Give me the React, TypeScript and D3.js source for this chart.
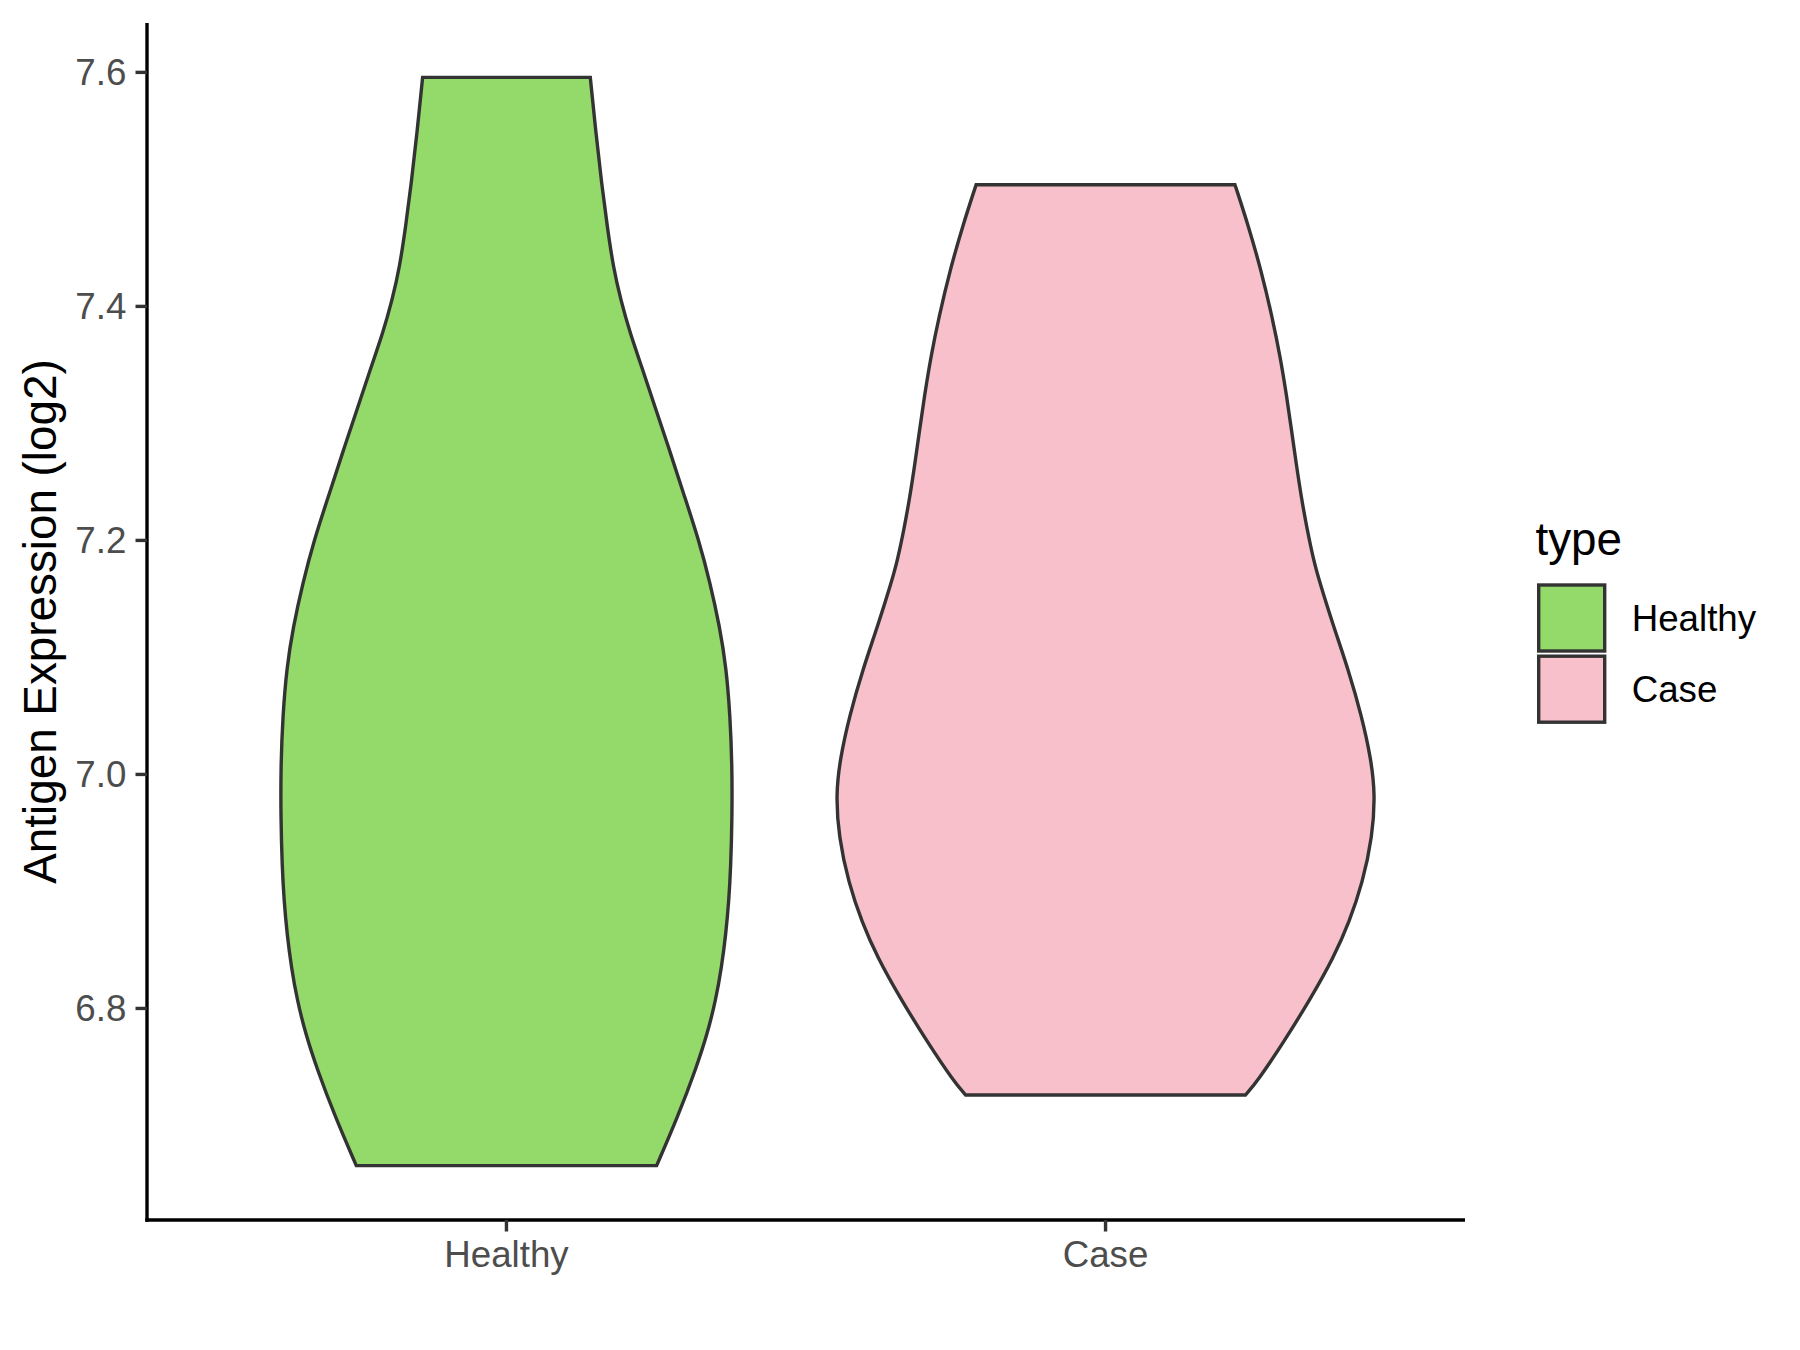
import React from "react";
import * as d3 from "d3";

const categories = ["Healthy", "Case"];
const legendTitle = "type";
const yTitle = "Antigen Expression (log2)";
const yTicks = [6.8, 7.0, 7.2, 7.4, 7.6];

// violin outlines: expression value and relative density (1 = widest violin)
const healthyValues = [7.5957, 7.5478, 7.5051, 7.468, 7.4338, 7.4053, 7.3768, 7.3483, 7.3141, 7.2771, 7.24, 7.2001, 7.1631, 7.126, 7.0918, 7.049, 7.0063, 6.9635, 6.9208, 6.8923, 6.8638, 6.8353, 6.8068, 6.7783, 6.7498, 6.707, 6.6657];
const healthyDensity = [0.311, 0.332, 0.353, 0.374, 0.396, 0.424, 0.459, 0.502, 0.551, 0.605, 0.657, 0.714, 0.756, 0.791, 0.815, 0.83, 0.837, 0.837, 0.832, 0.825, 0.814, 0.798, 0.776, 0.745, 0.705, 0.635, 0.557];

const caseValues = [7.504, 7.471, 7.431, 7.391, 7.357, 7.323, 7.294, 7.266, 7.237, 7.209, 7.183, 7.166, 7.127, 7.09, 7.05, 7.013, 6.983, 6.947, 6.907, 6.874, 6.844, 6.809, 6.772, 6.738, 6.726];
const caseDensity = [0.48, 0.527, 0.577, 0.618, 0.648, 0.672, 0.69, 0.707, 0.726, 0.748, 0.772, 0.792, 0.845, 0.9, 0.95, 0.985, 1.0, 0.99, 0.953, 0.904, 0.847, 0.762, 0.663, 0.564, 0.519];

const seriesValues = [healthyValues, caseValues];
const seriesDensity = [healthyDensity, caseDensity];

const FILLS = ["#93DA6A", "#F8C0CB"];
const W = 1800;
const H = 1350;
const panel = { left: 147, right: 1465, top: 23, bottom: 1220 };
const FONT = "'Liberation Sans', Arial, sans-serif";

export default function App() {
  const allVals = seriesValues.flat();
  const vmin = d3.min(allVals) as number;
  const vmax = d3.max(allVals) as number;
  const pad = (vmax - vmin) * 0.05;
  const y = d3.scaleLinear().domain([vmin - pad, vmax + pad]).range([panel.bottom, panel.top]);
  const x = d3
    .scaleLinear()
    .domain([0.4, categories.length + 0.6])
    .range([panel.left, panel.right]);
  const halfMax = x(1.45) - x(1);

  const violins = categories.map((c, i) => {
    const cx = x(i + 1);
    const pts = seriesValues[i].map((v, j) => ({ v, d: seriesDensity[i][j] }));
    const area = d3
      .area<{ v: number; d: number }>()
      .y((p) => y(p.v))
      .x0((p) => cx - p.d * halfMax)
      .x1((p) => cx + p.d * halfMax)
      .curve(d3.curveBasis);
    return { c, cx, path: area(pts) as string };
  });

  const sw = 3.4;
  const legendX = 1535.5;
  const keyStep = 71.2;
  const keyTop = 583.3;
  const keyOuter = 69.4;

  return (
    <svg
      width={W}
      height={H}
      viewBox={`0 0 ${W} ${H}`}
      style={{ position: "absolute", left: 0, top: 0, background: "#fff" }}
      fontFamily={FONT}
    >
      <rect x={0} y={0} width={W} height={H} fill="#ffffff" />
      {violins.map((vl, i) => (
        <path
          key={vl.c}
          d={vl.path}
          fill={FILLS[i]}
          stroke="#333333"
          strokeWidth={sw}
          strokeLinejoin="miter"
        />
      ))}
      {/* axes */}
      <line x1={panel.left} x2={panel.left} y1={panel.top} y2={panel.bottom + sw / 2} stroke="#000" strokeWidth={sw} />
      <line x1={panel.left - sw / 2} x2={panel.right} y1={panel.bottom} y2={panel.bottom} stroke="#000" strokeWidth={sw} />
      {yTicks.map((t) => (
        <g key={t}>
          <line x1={panel.left - 11.5} x2={panel.left} y1={y(t)} y2={y(t)} stroke="#333333" strokeWidth={sw} />
          <text
            x={panel.left - 11.5 - 9.2}
            y={y(t)}
            textAnchor="end"
            dominantBaseline="central"
            fontSize={36.7}
            fill="#4D4D4D"
          >
            {t.toFixed(1)}
          </text>
        </g>
      ))}
      {categories.map((c, i) => (
        <g key={c}>
          <line x1={x(i + 1)} x2={x(i + 1)} y1={panel.bottom} y2={panel.bottom + 11.5} stroke="#333333" strokeWidth={sw} />
          <text x={x(i + 1)} y={1267} textAnchor="middle" fontSize={36.7} fill="#4D4D4D">
            {c}
          </text>
        </g>
      ))}
      <text
        transform={`translate(${56},${(panel.top + panel.bottom) / 2}) rotate(-90)`}
        textAnchor="middle"
        fontSize={45.8}
        fill="#000"
      >
        {yTitle}
      </text>
      {/* legend */}
      <text x={legendX} y={555} fontSize={45.8} fill="#000">
        {legendTitle}
      </text>
      {categories.map((c, i) => (
        <g key={c}>
          <rect
            x={legendX + 1.5 + sw / 2}
            y={keyTop + i * keyStep + sw / 2}
            width={keyOuter - sw}
            height={keyOuter - sw}
            fill={FILLS[i]}
            stroke="#333333"
            strokeWidth={sw}
          />
          <text x={1631.7} y={631 + i * keyStep} fontSize={36.7} fill="#000">
            {c}
          </text>
        </g>
      ))}
    </svg>
  );
}
